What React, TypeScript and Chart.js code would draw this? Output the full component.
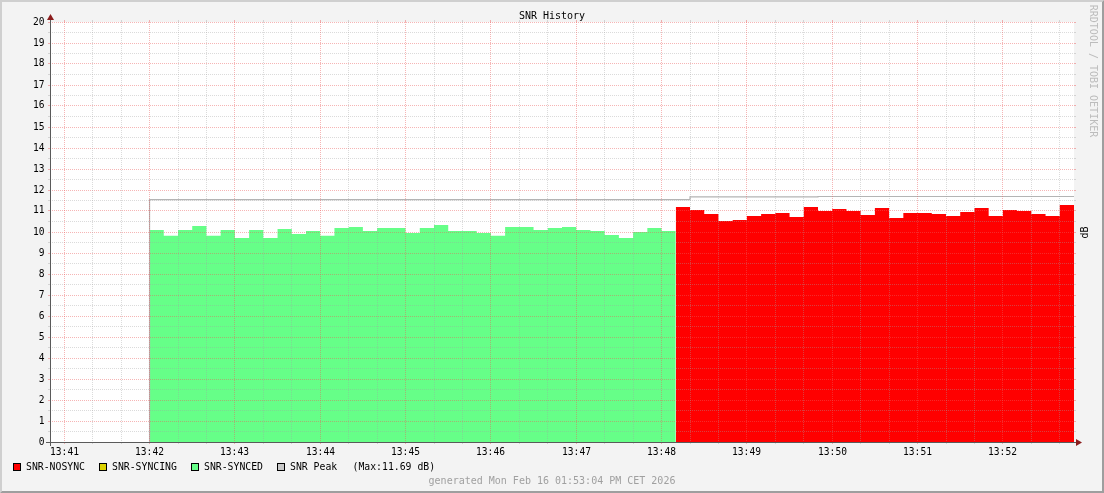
import React, { useEffect, useRef } from 'react';
import { Chart, registerables } from 'chart.js';

Chart.register(...registerables);

const W = 1104;
const H = 493;

// ---- texts ----
const TITLE = 'SNR History';
const Y_UNIT = 'dB';
const SIGNATURE = 'RRDTOOL / TOBI OETIKER';
const FOOTER = 'generated Mon Feb 16 01:53:04 PM CET 2026';

// ---- axes ----
const X_START = '13:40:50';
const X_END = '13:52:50';
const minuteLabels = ['13:41', '13:42', '13:43', '13:44', '13:45', '13:46', '13:47', '13:48', '13:49', '13:50', '13:51', '13:52'];
const X_MINOR_SEC = 20;
const yLabels = [0, 1, 2, 3, 4, 5, 6, 7, 8, 9, 10, 11, 12, 13, 14, 15, 16, 17, 18, 19, 20];
const Y_MINOR = 0.5;

// ---- series (10 second steps) ----
const STEP_SEC = 10;
const syncedStart = '13:42:00';
const syncedValues = [
  10.1, 9.82, 10.1, 10.29, 9.82, 10.1, 9.71, 10.1, 9.71, 10.14,
  9.9, 10.05, 9.82, 10.19, 10.24, 10.05, 10.19, 10.19, 9.95, 10.19,
  10.33, 10.05, 10.05, 9.95, 9.82, 10.24, 10.24, 10.1, 10.19, 10.24,
  10.1, 10.05, 9.86, 9.71, 10.0, 10.19, 10.05,
];
const nosyncStart = '13:48:10';
const nosyncValues = [
  11.19, 11.05, 10.86, 10.52, 10.57, 10.76, 10.86, 10.9, 10.71, 11.19,
  11.0, 11.1, 11.0, 10.81, 11.14, 10.67, 10.9, 10.9, 10.86, 10.76,
  10.95, 11.14, 10.76, 11.05, 11.0, 10.86, 10.76, 11.29,
];
const peakTimes = ['13:42:00', '13:42:00', '13:48:20', '13:49:50', '13:52:50'];
const peakValues = [0, 11.54, 11.67, 11.69, 11.69];
const PEAK_MAX = 11.69;

const legendNames = ['SNR-NOSYNC', 'SNR-SYNCING', 'SNR-SYNCED', 'SNR Peak'];
const legendColors = ['#ff0000', '#dcd200', '#66ff88', '#c8c8c8'];

// ---- styles ----
const COL_BACK = '#f3f3f3';
const COL_SHADEA = '#cfcfcf';
const COL_SHADEB = '#9e9e9e';
const COL_GRID = 'rgba(160,160,160,0.38)';
const COL_MGRID = 'rgba(235,90,90,0.45)';
const COL_AXIS = '#5a5a5a';
const COL_ARROW = '#8b1c1c';
const FONT = "'DejaVu Sans Mono', monospace";

const toSec = (hms: string) => {
  const p = hms.split(':').map(Number);
  return p[0] * 3600 + p[1] * 60 + (p[2] || 0) - (13 * 3600 + 40 * 60);
};

const stepSeries = (start: string, values: number[]) => {
  const s = toSec(start);
  const pts = values.map((v, i) => ({ x: s + i * STEP_SEC, y: v }));
  pts.push({ x: s + values.length * STEP_SEC, y: values[values.length - 1] });
  return pts;
};

const rrdPlugin = {
  id: 'rrdLook',
  beforeDraw(chart: any) {
    const { ctx, chartArea: a } = chart;
    ctx.save();
    ctx.fillStyle = COL_BACK;
    ctx.fillRect(0, 0, W, H);
    ctx.fillStyle = COL_SHADEA;
    ctx.beginPath();
    ctx.moveTo(0, H); ctx.lineTo(2, H - 2); ctx.lineTo(2, 2); ctx.lineTo(W - 2, 2); ctx.lineTo(W, 0); ctx.lineTo(0, 0);
    ctx.closePath(); ctx.fill();
    ctx.fillStyle = COL_SHADEB;
    ctx.beginPath();
    ctx.moveTo(2, H - 2); ctx.lineTo(W - 2, H - 2); ctx.lineTo(W - 2, 2); ctx.lineTo(W, 0); ctx.lineTo(W, H); ctx.lineTo(0, H);
    ctx.closePath(); ctx.fill();
    ctx.fillStyle = '#ffffff';
    ctx.fillRect(a.left, a.top, a.right - a.left, a.bottom - a.top);
    ctx.restore();
  },
  afterDatasetsDraw(chart: any) {
    const { ctx, chartArea: a } = chart;
    const xs = chart.scales.x;
    const ys = chart.scales.y;
    const L = a.left, R = a.right, T = a.top, B = a.bottom;
    ctx.save();
    ctx.lineWidth = 1;

    // horizontal grid
    const yMax = yLabels[yLabels.length - 1];
    for (let v = yLabels[0]; v <= yMax + 1e-9; v += Y_MINOR) {
      const major = Math.abs(v - Math.round(v)) < 1e-9;
      const py = Math.floor(ys.getPixelForValue(v)) + 0.5;
      ctx.strokeStyle = major ? COL_MGRID : COL_GRID;
      ctx.setLineDash([]);
      ctx.beginPath();
      ctx.moveTo(L - 2, py); ctx.lineTo(L, py);
      ctx.moveTo(R, py); ctx.lineTo(R + 2, py);
      ctx.stroke();
      ctx.setLineDash([1, 1]);
      ctx.beginPath();
      ctx.moveTo(L, py); ctx.lineTo(R, py);
      ctx.stroke();
    }
    // vertical grid
    const majorSecs = minuteLabels.map((m) => toSec(m));
    const x0 = Math.ceil(toSec(X_START) / X_MINOR_SEC) * X_MINOR_SEC;
    for (let t = x0; t <= toSec(X_END); t += X_MINOR_SEC) {
      const major = majorSecs.includes(t);
      const px = Math.floor(xs.getPixelForValue(t)) + 0.5;
      ctx.strokeStyle = major ? COL_MGRID : COL_GRID;
      ctx.setLineDash([]);
      ctx.beginPath();
      ctx.moveTo(px, B); ctx.lineTo(px, B + 2);
      ctx.moveTo(px, T - 2); ctx.lineTo(px, T);
      ctx.stroke();
      ctx.setLineDash([1, 1]);
      ctx.beginPath();
      ctx.moveTo(px, T); ctx.lineTo(px, B);
      ctx.stroke();
    }
    ctx.setLineDash([]);

    // axes
    ctx.strokeStyle = COL_AXIS;
    ctx.beginPath();
    ctx.moveTo(L - 4, B + 0.5); ctx.lineTo(R + 4, B + 0.5);
    ctx.moveTo(L + 0.5, B + 4); ctx.lineTo(L + 0.5, T - 4);
    ctx.stroke();
    ctx.fillStyle = COL_ARROW;
    ctx.beginPath();
    ctx.moveTo(R + 2, B - 3); ctx.lineTo(R + 2, B + 4); ctx.lineTo(R + 8, B + 0.5); ctx.closePath(); ctx.fill();
    ctx.beginPath();
    ctx.moveTo(L - 3, T - 2); ctx.lineTo(L + 4, T - 2); ctx.lineTo(L + 0.5, T - 8); ctx.closePath(); ctx.fill();

    // tick labels
    ctx.fillStyle = '#000';
    ctx.font = `9.6px ${FONT}`;
    ctx.textAlign = 'right';
    ctx.textBaseline = 'middle';
    yLabels.forEach((v) => {
      ctx.fillText(String(v), L - 5.5, Math.floor(ys.getPixelForValue(v)) + 0.5);
    });
    ctx.textAlign = 'center';
    minuteLabels.forEach((m) => {
      ctx.fillText(m, Math.floor(xs.getPixelForValue(toSec(m))) + 0.5, B + 10);
    });

    // title
    ctx.font = `10px ${FONT}`;
    ctx.fillText(TITLE, W / 2, 16);

    // legend
    const boxX = [13, 99, 191, 277];
    const textX = [26, 112, 204, 290];
    ctx.textAlign = 'left';
    ctx.font = `9.8px ${FONT}`;
    legendNames.forEach((n, i) => {
      ctx.fillStyle = legendColors[i];
      ctx.fillRect(boxX[i], 463, 7, 7);
      ctx.strokeStyle = '#000';
      ctx.strokeRect(boxX[i] + 0.5, 463.5, 7, 7);
      ctx.fillStyle = '#000';
      ctx.fillText(n, textX[i], 467);
    });
    ctx.fillText(`(Max:${PEAK_MAX.toFixed(2)} dB)`, 352.5, 467);

    // footer
    ctx.textAlign = 'center';
    ctx.fillStyle = '#a0a0a0';
    ctx.font = `10px ${FONT}`;
    ctx.fillText(FOOTER, W / 2, 481);

    // signature (rotated clockwise)
    ctx.save();
    ctx.translate(1093, 71);
    ctx.rotate(Math.PI / 2);
    ctx.fillStyle = '#bcbcbc';
    ctx.fillText(SIGNATURE, 0, 0);
    ctx.restore();

    // unit label (rotated counter-clockwise)
    ctx.save();
    ctx.translate(1085, 232.5);
    ctx.rotate(-Math.PI / 2);
    ctx.fillStyle = '#000';
    ctx.fillText(Y_UNIT, 0, 0);
    ctx.restore();

    ctx.restore();
  },
};

export default function App() {
  const ref = useRef<HTMLCanvasElement | null>(null);
  useEffect(() => {
    if (!ref.current) return;
    const area = (data: any, color: string, order: number) => ({
      data,
      stepped: 'before' as const,
      fill: 'origin',
      backgroundColor: color,
      borderColor: 'rgba(0,0,0,0)',
      borderWidth: 0,
      pointRadius: 0,
      order,
    });
    const chart = new Chart(ref.current, {
      type: 'line',
      data: {
        datasets: [
          area(stepSeries(syncedStart, syncedValues), legendColors[2], 2),
          area(stepSeries(nosyncStart, nosyncValues), legendColors[0], 2),
          {
            data: peakTimes.map((t, i) => ({ x: toSec(t), y: peakValues[i] })),
            stepped: 'before' as const,
            fill: false,
            borderColor: '#b4b4b4',
            borderWidth: 1.2,
            pointRadius: 0,
            order: 1,
          } as any,
        ],
      },
      options: {
        responsive: false,
        animation: false,
        devicePixelRatio: 1,
        events: [],
        layout: { padding: { left: 50, right: 30, top: 22, bottom: 51 } },
        scales: {
          x: { type: 'linear', min: toSec(X_START), max: toSec(X_END), display: false },
          y: { type: 'linear', min: yLabels[0], max: yLabels[yLabels.length - 1], display: false },
        },
        plugins: { legend: { display: false }, title: { display: false }, tooltip: { enabled: false } },
      },
      plugins: [rrdPlugin],
    } as any);
    return () => chart.destroy();
  }, []);
  return (
    <div style={{ position: 'fixed', left: 0, top: 0, width: W, height: H }}>
      <canvas ref={ref} width={W} height={H} style={{ display: 'block', width: W, height: H }} />
    </div>
  );
}
